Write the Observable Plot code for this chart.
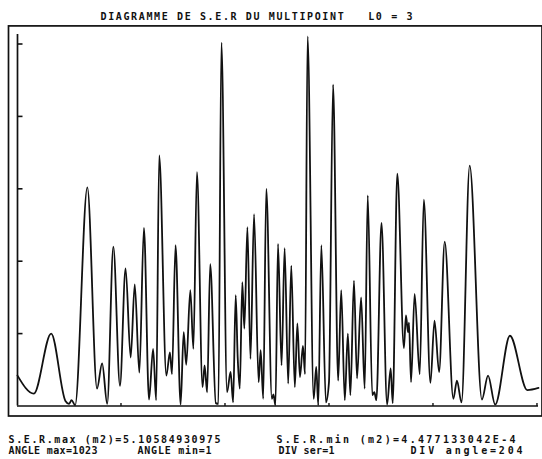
<!DOCTYPE html>
<html>
<head>
<meta charset="utf-8">
<script src="https://cdn.jsdelivr.net/npm/d3@7"></script>
<script src="https://cdn.jsdelivr.net/npm/@observablehq/plot@0.6"></script>
<style>
  html, body { margin: 0; padding: 0; background: #fff; }
  #chart svg { display: block; }
</style>
</head>
<body>
<div id="chart"></div>
<script>
// Angle (sample index) and S.E.R (m2)
const angles = [1, 33, 67, 95, 102, 107, 114, 138, 157, 167, 177, 189, 202, 213, 223, 231, 240, 249, 259, 267,
  273, 279, 293, 300, 304, 311, 321, 327, 332, 340, 346, 353, 364, 368, 373, 379, 390, 395, 401, 412,
  419, 424, 429, 433, 437, 442, 446, 452, 458, 465, 474, 478, 483, 489, 500, 503, 507, 512, 519, 525,
  532, 538, 545, 550, 555, 561, 565, 570, 582, 587, 591, 597, 606, 612, 620, 630, 636, 643, 649, 654,
  661, 667, 675, 682, 688, 697, 701, 705, 715, 726, 733, 737, 746, 759, 763, 767, 769, 773, 780, 790,
  798, 811, 819, 828, 839, 856, 863, 872, 888, 912, 924, 938, 967, 1001, 1023];
const ser = [0.42, 0.17, 1.00, 0.07, 0.03, 0.08, 0.01, 3.02, 0.24, 0.59, 0.03, 2.20, 0.28, 1.90, 0.67, 1.68, 0.46, 2.46, 0.09, 0.79,
  0.08, 3.46, 0.42, 0.74, 0.44, 2.22, 0.02, 1.02, 0.57, 1.60, 0.79, 3.23, 0.26, 0.56, 0.19, 1.96, 0.04, 0.03, 5.02, 0.19,
  0.47, 0.05, 1.53, 0.66, 0.24, 1.71, 1.07, 2.47, 0.65, 2.65, 0.33, 0.77, 0.10, 3.00, 0.10, 0.16, 0.01, 2.24, 0.56, 2.18,
  0.31, 1.94, 0.26, 1.14, 0.40, 0.83, 0.44, 5.106, 0.10, 0.54, 0.01, 2.22, 0.05, 0.33, 4.44, 0.35, 1.60, 0.08, 1.00, 0.15,
  1.73, 0.38, 1.50, 0.24, 2.91, 0.15, 0.19, 0.08, 2.53, 0.02, 0.52, 0.04, 3.21, 0.80, 1.25, 1.02, 1.15, 0.33, 1.55, 0.44,
  2.85, 0.32, 1.18, 0.47, 2.27, 0.10, 0.35, 0.05, 3.32, 0.09, 0.42, 0.02, 0.97, 0.22, 0.25];

const yTicks = [1, 2, 3, 4, 5];            // DIV ser = 1
const xTicks = [204, 408, 612, 816, 1020]; // DIV angle = 204
const angleRange = [1, 1023];
const serTop = 5.25;
const yAxisTop = 5.13;

const title = "DIAGRAMME DE S.E.R DU MULTIPOINT   L0 = 3";
const footLeft1 = "S.E.R.max (m2)=5.10584930975";
const footRight1 = "S.E.R.min (m2)=4.477133042E-4";
const footLeft2 = "ANGLE max=1023";
const footMid2 = "ANGLE min=1";
const footRight2a = "DIV ser=1";
const footRight2b = "DIV angle=204";

const data = angles.map((a, i) => ({angle: a, ser: ser[i]}));

const font = "'DejaVu Sans Mono', monospace";
const textStyle = {fontFamily: font, fontWeight: "bold", fontSize: 10, fill: "#111", lineAnchor: "bottom", textAnchor: "start"};

const tickRight = {draw(ctx) { ctx.moveTo(0, 0); ctx.lineTo(5, 0); }};
const tickUp = {draw(ctx) { ctx.moveTo(0, 0); ctx.lineTo(0, -3); }};

// measured text widths in the reference (px)
const textWidths = new Map([
  [title, 312], [footLeft1, 212], [footRight1, 239],
  [footLeft2, 89], [footMid2, 74], [footRight2a, 56], [footRight2b, 112]
]);

const chart = Plot.plot({
  width: 542,
  height: 459,
  marginLeft: 17,
  marginRight: 4,
  marginTop: 25.4,
  marginBottom: 53.5,
  style: {background: "#fff", overflow: "visible"},
  x: {domain: angleRange, axis: null},
  y: {domain: [0, serTop], axis: null},
  marks: [
    Plot.frame({insetLeft: -9, insetBottom: -10, insetRight: -3.5, stroke: "#111", strokeWidth: 1.7}),
    Plot.ruleX([angleRange[0]], {y1: 0, y2: yAxisTop, stroke: "#111", strokeWidth: 1.7}),
    Plot.ruleY([0], {stroke: "#111", strokeWidth: 1.7}),
    Plot.dot(yTicks, {x: () => angleRange[0], y: d => d, symbol: tickRight, stroke: "#111", strokeWidth: 1.6, fill: "none"}),
    Plot.dot(xTicks, {x: d => d, y: () => 0, symbol: tickUp, stroke: "#111", strokeWidth: 1.4, fill: "none"}),
    Plot.line(data, {x: "angle", y: "ser", curve: "monotone-x", stroke: "#111", strokeWidth: 1.8}),
    Plot.text([title], {text: d => d, frameAnchor: "top-left", dx: 83, dy: -6, ...textStyle}),
    Plot.text([footLeft1], {text: d => d, frameAnchor: "bottom-left", dx: -9, dy: 37.3, ...textStyle}),
    Plot.text([footRight1], {text: d => d, frameAnchor: "bottom-left", dx: 259, dy: 37.3, ...textStyle}),
    Plot.text([footLeft2], {text: d => d, frameAnchor: "bottom-left", dx: -9, dy: 47.5, ...textStyle}),
    Plot.text([footMid2], {text: d => d, frameAnchor: "bottom-left", dx: 120, dy: 47.5, ...textStyle}),
    Plot.text([footRight2a], {text: d => d, frameAnchor: "bottom-left", dx: 261, dy: 47.5, ...textStyle}),
    Plot.text([footRight2b], {text: d => d, frameAnchor: "bottom-left", dx: 393, dy: 47.5, ...textStyle})
  ]
});
d3.select(chart).selectAll("text").each(function() {
  const w = textWidths.get(this.textContent);
  if (w) {
    this.setAttribute("textLength", w);
    this.setAttribute("lengthAdjust", "spacing");
  }
});
document.getElementById("chart").appendChild(chart);
</script>
</body>
</html>
